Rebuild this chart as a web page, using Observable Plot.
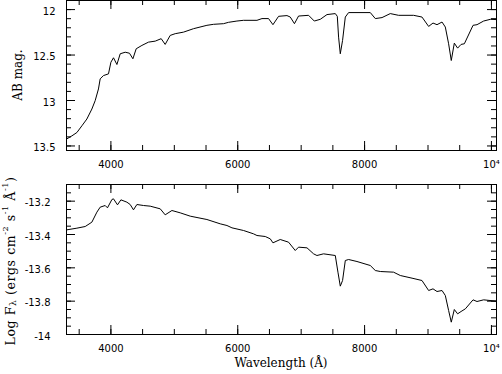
<!DOCTYPE html>
<html><head><meta charset="utf-8">
<script src="https://cdn.jsdelivr.net/npm/d3@7"></script>
<script src="https://cdn.jsdelivr.net/npm/@observablehq/plot@0.6"></script>
<style>body{margin:0;background:#fff}#chart svg{display:block}#chart svg.bottom-panel{overflow:visible;position:relative;z-index:1}</style>
</head><body><div id="chart"></div>
<script>
// Top panel: AB magnitude vs wavelength (Å)
const wlTop = [3306,3385,3464,3543,3621,3700,3752,3804,3831,3883,3962,4000,4041,4095,4147,4226,4293,4347,4399,4489,4593,4699,4793,4856,4935,5014,5145,5303,5514,5618,5776,5855,5987,6091,6303,6382,6486,6555,6644,6776,6828,6894,6959,7117,7207,7301,7407,7538,7570,7590,7617,7653,7696,7748,8090,8169,8275,8405,8536,8773,8905,9010,9079,9142,9221,9273,9325,9367,9415,9467,9521,9573,9710,9773,9877,9983,10077];
const magTop = [13.422,13.389,13.352,13.278,13.204,13.094,13.002,12.873,12.762,12.726,12.707,12.579,12.530,12.604,12.486,12.469,12.480,12.541,12.431,12.394,12.358,12.347,12.320,12.383,12.284,12.265,12.248,12.210,12.173,12.162,12.155,12.140,12.126,12.118,12.118,12.099,12.099,12.166,12.074,12.066,12.082,12.155,12.071,12.063,12.126,12.107,12.055,12.044,12.074,12.303,12.486,12.339,12.082,12.033,12.033,12.099,12.088,12.044,12.063,12.063,12.082,12.185,12.148,12.166,12.137,12.192,12.376,12.560,12.369,12.424,12.383,12.376,12.173,12.166,12.126,12.107,12.110];

// Bottom panel: log F_lambda vs wavelength (Å)
const wlBot = [3306,3464,3595,3700,3779,3831,3910,3946,4016,4041,4104,4158,4252,4304,4356,4410,4514,4620,4778,4856,4962,5093,5251,5514,5724,5830,5909,6092,6249,6303,6434,6513,6555,6670,6801,6907,6959,7092,7196,7249,7353,7538,7580,7617,7653,7696,7748,7880,8090,8169,8248,8457,8563,8748,8905,9010,9079,9142,9221,9273,9325,9367,9415,9467,9521,9589,9710,9773,9877,10077];
const fluxBot = [-13.372,-13.362,-13.352,-13.326,-13.266,-13.236,-13.226,-13.240,-13.190,-13.186,-13.222,-13.192,-13.206,-13.220,-13.252,-13.220,-13.226,-13.230,-13.246,-13.282,-13.256,-13.270,-13.290,-13.310,-13.336,-13.346,-13.360,-13.376,-13.396,-13.406,-13.412,-13.426,-13.450,-13.430,-13.446,-13.496,-13.476,-13.480,-13.516,-13.526,-13.516,-13.526,-13.626,-13.710,-13.676,-13.556,-13.550,-13.562,-13.586,-13.616,-13.622,-13.626,-13.646,-13.662,-13.676,-13.736,-13.726,-13.742,-13.736,-13.766,-13.856,-13.926,-13.850,-13.876,-13.862,-13.846,-13.792,-13.802,-13.792,-13.800];

// Axis ticks and labels
const xMajor = [4000, 6000, 8000, 10000];
const xTickLabels = ["4000", "6000", "8000", "10⁴"];
const xMinor = d3.range(3500, 10001, 500);
const yTopMajor = [12, 12.5, 13, 13.5];
const yTopLabels = ["12", "12.5", "13", "13.5"];
const yTopMinor = d3.range(119, 136).map(d => d / 10);
const yBotMajor = [-14, -13.8, -13.6, -13.4, -13.2];
const yBotLabels = ["-14", "-13.8", "-13.6", "-13.4", "-13.2"];
const yBotMinor = d3.range(-280, -261).map(d => d / 20);

const W = 502, ML = 66, MR = 6, IH = 150, IW = W - ML - MR;
const MAJ = 9, MIN = 5;

function panel({height, marginBottom, yDomain, yReverse, yMajor, yMinor, yLabels, yPad, wl, val, bg}) {
  const fmtY = d => yLabels[yMajor.indexOf(d)];
  const fmtX = d => xTickLabels[xMajor.indexOf(d)];
  return Plot.plot({
    width: W, height, marginLeft: ML, marginRight: MR, marginTop: 0, marginBottom,
    style: {fontFamily: "DejaVu Sans", fontSize: "10px", color: "black", background: bg, overflow: "visible"},
    x: {domain: [3300, 10080], axis: null},
    y: {domain: yDomain, reverse: yReverse, axis: null},
    marks: [
      Plot.frame({stroke: "black"}),
      Plot.tickX(xMajor, {x: d => d, insetTop: IH - MAJ, stroke: "black"}),
      Plot.tickX(xMajor, {x: d => d, insetBottom: IH - MAJ, stroke: "black"}),
      Plot.tickX(xMinor, {x: d => d, insetTop: IH - MIN, stroke: "black"}),
      Plot.tickX(xMinor, {x: d => d, insetBottom: IH - MIN, stroke: "black"}),
      Plot.tickY(yMajor, {y: d => d, insetRight: IW - MAJ, stroke: "black"}),
      Plot.tickY(yMajor, {y: d => d, insetLeft: IW - MAJ, stroke: "black"}),
      Plot.tickY(yMinor, {y: d => d, insetRight: IW - MIN, stroke: "black"}),
      Plot.tickY(yMinor, {y: d => d, insetLeft: IW - MIN, stroke: "black"}),
      Plot.line(wl.map((w, i) => ({w, v: val[i]})), {x: "w", y: "v", stroke: "black", strokeWidth: 1, clip: true}),
      Plot.axisX(xMajor, {tickSize: 0, tickPadding: 10, tickFormat: fmtX, label: null}),
      Plot.axisY(yMajor, {tickSize: 0, tickPadding: yPad, tickFormat: fmtY, label: null, dy: 2})
    ]
  });
}

const topPanel = panel({height: 184, marginBottom: 34, yDomain: [11.9, 13.55], yReverse: true, yMajor: yTopMajor, yMinor: yTopMinor, yLabels: yTopLabels, yPad: 11, wl: wlTop, val: magTop, bg: "white"});
const botPanel = panel({height: 190, marginBottom: 40, yDomain: [-14, -13.1], yReverse: false, yMajor: yBotMajor, yMinor: yBotMinor, yLabels: yBotLabels, yPad: 16, wl: wlBot, val: fluxBot, bg: "transparent"});
botPanel.classList.add("bottom-panel");

const serif = "DejaVu Serif";
d3.select(topPanel).append("text")
  .attr("transform", "translate(18,75) rotate(-90)")
  .attr("text-anchor", "middle").attr("dominant-baseline", "central")
  .attr("font-family", serif).attr("font-size", 12).text("AB mag.");

const lab = d3.select(botPanel).append("text")
  .attr("transform", `translate(10,${IH / 2 + 2}) rotate(-90)`)
  .attr("text-anchor", "middle").attr("dominant-baseline", "central")
  .attr("font-family", serif).attr("font-size", 12.5).attr("letter-spacing", 0.6);
lab.append("tspan").text("Log F");
lab.append("tspan").attr("dy", 3).attr("font-size", 9).text("λ");
lab.append("tspan").attr("dy", -3).text(" (ergs cm");
lab.append("tspan").attr("dy", -5).attr("font-size", 8).text("-2");
lab.append("tspan").attr("dy", 5).text(" s");
lab.append("tspan").attr("dy", -5).attr("font-size", 8).text("-1");
lab.append("tspan").attr("dy", 5).text(" Å");
lab.append("tspan").attr("dy", -5).attr("font-size", 8).text("-1");
lab.append("tspan").attr("dy", 5).text(")");

d3.select(botPanel).append("text")
  .attr("x", ML + IW / 2).attr("y", 179)
  .attr("text-anchor", "middle").attr("dominant-baseline", "central")
  .attr("font-family", serif).attr("font-size", 12).text("Wavelength (Å)");

document.getElementById("chart").append(topPanel, botPanel);
</script>
</body></html>
